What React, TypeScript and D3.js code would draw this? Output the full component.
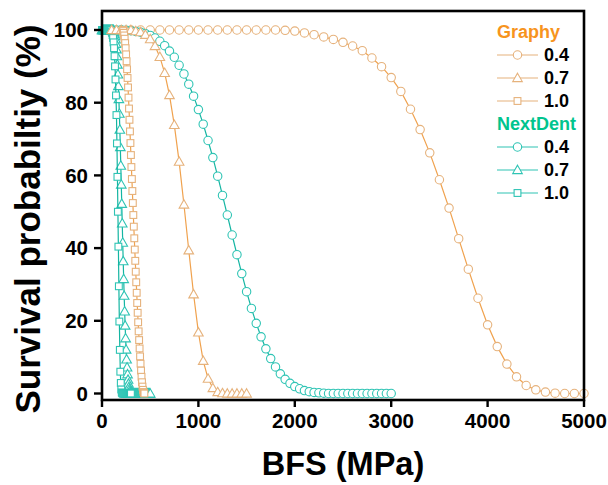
import React from "react";
import * as d3 from "d3";

// ---- data (BFS in MPa, survival probability in %) ----
const graphy04Start = 100, graphy04Step = 100;
const graphy04 = [
  100, 100, 100, 100, 100, 100, 100, 100, 100, 100, 100, 100, 100, 100, 100, 100, 100, 100, 99.9,
  99.7, 99.2, 98.7, 98.1, 97.4, 96.6, 95.6, 94.3, 92.3, 89.9, 86.9, 83.1, 78.2, 72.6, 66.2,
  58.8, 51.0, 42.6, 34.2, 26.2, 18.9, 12.9, 8.1, 4.6, 2.2, 1.0, 0.4, 0.1, 0, 0, 0,
];
const graphy07Start = 100, graphy07Step = 50;
const graphy07 = [
  100, 100, 100, 100, 100, 99.7, 99.4, 98.7, 97.5, 95.6, 92.6, 88.2, 82.1, 73.9, 63.8, 52.0,
  39.4, 27.3, 16.8, 9.0, 4.1, 1.5, 0.4, 0.1, 0, 0, 0, 0, 0,
];
const graphy10Start = 215, graphy10Step = 5;
const graphy10 = [
  100, 99.7, 99.2, 98.5, 97.6, 96.4, 95.0, 93.3, 91.4, 89.2, 86.8, 84.2, 81.4, 78.4, 75.3,
  72.1, 68.9, 65.6, 62.3, 59.0, 55.7, 52.4, 49.1, 45.9, 42.7, 39.6, 36.5, 33.5, 30.6, 27.7,
  24.9, 22.2, 19.6, 17.1, 14.7, 12.4, 10.2, 8.2, 6.3, 4.6, 3.1, 1.9, 1.0, 0.4, 0.1, 0,
];
const nextdent04Start = 50, nextdent04Step = 50;
const nextdent04 = [
  100, 100, 100, 100, 99.9, 99.8, 99.6, 99.4, 99.0, 98.5, 97.8, 96.9, 95.7, 94.2, 92.5, 90.3,
  87.9, 85.1, 81.8, 78.1, 74.1, 69.6, 64.9, 59.8, 54.5, 49.1, 43.6, 38.2, 33.0, 28.0, 23.4,
  19.3, 15.6, 12.3, 9.6, 7.3, 5.4, 3.9, 2.8, 1.9, 1.3, 0.8, 0.5, 0.3, 0.2, 0.1, 0, 0, 0, 0,
  0, 0, 0, 0, 0, 0, 0, 0, 0, 0,
];
const nextdent07Start = 0, nextdent07Step = 5;
const nextdent07 = [
  100, 100, 100, 100, 100, 100, 100, 100, 100, 100, 100, 100, 100, 100, 100, 100, 100, 100,
  100, 100, 100, 100, 100, 100, 100,
  99.5, 99.0, 98.3, 97.4, 96.2, 94.7, 92.8, 90.5, 87.8, 84.6, 81.0, 77.0, 72.6, 67.8, 62.7,
  57.5, 52.2, 46.8, 41.5, 36.4, 31.5, 26.9, 22.6, 18.7, 15.2, 12.1, 9.4, 7.2, 5.3, 3.8, 2.7,
  1.8, 1.2, 0.7, 0.4, 0.2, 0.1,
  0, 0, 0, 0, 0, 0, 0, 0, 0, 0, 0, 0, 0, 0, 0, 0, 0, 0, 0, 0, 0, 0, 0, 0, 0, 0, 0, 0, 0, 0,
  0, 0, 0, 0, 0, 0, 0, 0, 0,
];
const nextdent10Start = 0, nextdent10Step = 5;
const nextdent10 = [
  100, 100, 100, 100, 100, 100, 100, 100, 100, 100, 100, 100, 100, 100, 100, 100, 100, 100,
  100, 100, 99.6, 99.2, 98.6, 97.8, 96.6, 95.0, 92.8, 90.0, 86.4, 82.0, 76.6, 68.8, 59.6,
  50.0, 40.4, 29.5, 19.8, 12.0, 6.0, 2.9, 1.1, 0.3, 0.1, 0, 0, 0, 0, 0, 0, 0, 0, 0, 0, 0, 0,
  0, 0, 0, 0, 0, 0,
];

const xTicks = [0, 1000, 2000, 3000, 4000, 5000];
const yTicks = [0, 20, 40, 60, 80, 100];
const groups = ["Graphy", "NextDent"];
const ratios = ["0.4", "0.7", "1.0"];

const ORANGE_TITLE = "#f7941d";
const ORANGE_LINE = "#f0a24e";
const ORANGE_MARK = "#e6b27c";
const TEAL_TITLE = "#00c48e";
const TEAL_LINE = "#14b5a2";
const TEAL_MARK = "#2ec4b4";

type Shape = "circle" | "triangle" | "square";

function Marker({ cx, cy, shape, color }: { cx: number; cy: number; shape: Shape; color: string }) {
  if (shape === "circle")
    return <circle cx={cx} cy={cy} r={4.2} fill="#fff" stroke={color} strokeWidth={1.1} />;
  if (shape === "square")
    return <rect x={cx - 3.4} y={cy - 3.4} width={6.8} height={6.8} fill="#fff" stroke={color} strokeWidth={1.1} />;
  const s = 4.8;
  return (
    <path
      d={`M${cx},${cy - s}L${cx + s},${cy + s * 0.75}L${cx - s},${cy + s * 0.75}Z`}
      fill="#fff"
      stroke={color}
      strokeWidth={1.1}
    />
  );
}

export default function App() {
  const W = 608, H = 485;
  const left = 102, right = 584, top = 11, bottom = 400;
  const x = d3.scaleLinear().domain([0, 5000]).range([left, right]);
  const y = d3.scaleLinear().domain([0, 100]).range([393.5, 30]);

  const mk = (start: number, step: number, vals: number[]) =>
    vals.map((v, i) => ({ bfs: start + i * step, s: v }));

  const series = [
    { data: mk(graphy04Start, graphy04Step, graphy04), shape: "circle" as Shape, line: ORANGE_LINE, mark: ORANGE_MARK },
    { data: mk(nextdent04Start, nextdent04Step, nextdent04), shape: "circle" as Shape, line: TEAL_LINE, mark: TEAL_MARK },
    { data: mk(nextdent07Start, nextdent07Step, nextdent07), shape: "triangle" as Shape, line: TEAL_LINE, mark: TEAL_MARK },
    { data: mk(nextdent10Start, nextdent10Step, nextdent10), shape: "square" as Shape, line: TEAL_LINE, mark: TEAL_MARK },
    { data: mk(graphy07Start, graphy07Step, graphy07), shape: "triangle" as Shape, line: ORANGE_LINE, mark: ORANGE_MARK },
    { data: mk(graphy10Start, graphy10Step, graphy10), shape: "square" as Shape, line: ORANGE_LINE, mark: ORANGE_MARK },
  ];

  const line = d3
    .line<{ bfs: number; s: number }>()
    .x((d) => x(d.bfs))
    .y((d) => y(d.s));

  const font = "'Liberation Sans', Arial, Helvetica, sans-serif";
  const shapes: Shape[] = ["circle", "triangle", "square"];

  // legend layout
  const legX = 497, legLineW = 41, legTextX = 544;
  const legRows: { kind: "title" | "item"; text: string; color: string; shape?: Shape; y: number }[] = [];
  let ly = 32;
  groups.forEach((g, gi) => {
    legRows.push({ kind: "title", text: g, color: gi === 0 ? ORANGE_TITLE : TEAL_TITLE, y: ly });
    ly += 23;
    ratios.forEach((r, ri) => {
      legRows.push({ kind: "item", text: r, color: gi === 0 ? ORANGE_MARK : TEAL_MARK, shape: shapes[ri], y: ly });
      ly += 23;
    });
  });

  return (
    <svg width={W} height={H} style={{ position: "absolute", left: 0, top: 0, background: "#fff" }} fontFamily={font}>
      {series.map((sr, i) => (
        <g key={i}>
          <path d={line(sr.data) || ""} fill="none" stroke={sr.line} strokeWidth={1.2} />
          {sr.data.map((d, j) => (
            <Marker key={j} cx={x(d.bfs)} cy={y(d.s)} shape={sr.shape} color={sr.mark} />
          ))}
        </g>
      ))}

      {/* frame */}
      <rect x={left} y={top} width={right - left} height={bottom - top} fill="none" stroke="#000" strokeWidth={2.6} />

      {/* x ticks */}
      {xTicks.map((t) => (
        <g key={"x" + t}>
          <line x1={x(t)} x2={x(t)} y1={bottom} y2={bottom + 7} stroke="#000" strokeWidth={2.4} />
          <text x={x(t)} y={428} textAnchor="middle" fontSize={20.5} fontWeight="bold">
            {t}
          </text>
        </g>
      ))}
      {/* y ticks */}
      {yTicks.map((t) => (
        <g key={"y" + t}>
          <line x1={left - 8} x2={left} y1={y(t)} y2={y(t)} stroke="#000" strokeWidth={2.4} />
          <text x={88} y={y(t)} dy="0.36em" textAnchor="end" fontSize={20.5} fontWeight="bold">
            {t}
          </text>
        </g>
      ))}

      <text x={343} y={475} textAnchor="middle" fontSize={32.5} fontWeight="bold">
        BFS (MPa)
      </text>
      <text
        transform={`translate(40,219) rotate(-90)`}
        textAnchor="middle"
        fontSize={35}
        fontWeight="bold"
      >
        Survival probabiltiy (%)
      </text>

      {/* legend */}
      {legRows.map((r, i) =>
        r.kind === "title" ? (
          <text key={i} x={legX} y={r.y} dy="0.36em" fontSize={18} fontWeight="bold" fill={r.color}>
            {r.text}
          </text>
        ) : (
          <g key={i}>
            <line x1={legX} x2={legX + legLineW} y1={r.y} y2={r.y} stroke={r.color} strokeWidth={1.2} />
            <Marker cx={legX + legLineW / 2} cy={r.y} shape={r.shape!} color={r.color} />
            <text x={legTextX} y={r.y} dy="0.36em" fontSize={18} fontWeight="bold" fill="#000">
              {r.text}
            </text>
          </g>
        )
      )}
    </svg>
  );
}
